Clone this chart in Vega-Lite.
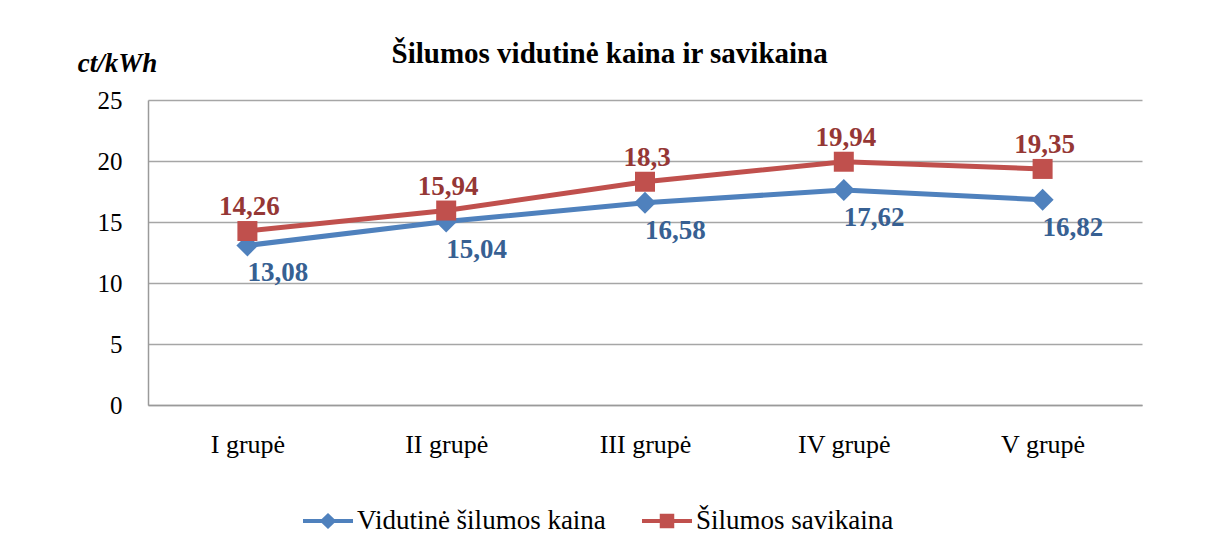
{
  "$schema": "https://vega.github.io/schema/vega-lite/v6.json",
  "width": 994,
  "height": 305,
  "autosize": "none",
  "padding": {"left": 148, "top": 100, "right": 68, "bottom": 132},
  "background": "white",
  "title": {
    "text": "Šilumos vidutinė kaina ir savikaina",
    "font": "Liberation Serif",
    "fontSize": 29,
    "fontWeight": "bold",
    "color": "#000000",
    "anchor": "middle",
    "frame": "bounds",
    "offset": -20
  },
  "config": {
    "view": {"stroke": null},
    "locale": {"number": {"decimal": ",", "thousands": " ", "grouping": [3], "currency": ["", " €"]}},
    "font": "Liberation Serif"
  },
  "data": {
    "values": [
      {"grupe": "I grupė", "series": "Vidutinė šilumos kaina", "value": 13.08},
      {"grupe": "II grupė", "series": "Vidutinė šilumos kaina", "value": 15.04},
      {"grupe": "III grupė", "series": "Vidutinė šilumos kaina", "value": 16.58},
      {"grupe": "IV grupė", "series": "Vidutinė šilumos kaina", "value": 17.62},
      {"grupe": "V grupė", "series": "Vidutinė šilumos kaina", "value": 16.82},
      {"grupe": "I grupė", "series": "Šilumos savikaina", "value": 14.26},
      {"grupe": "II grupė", "series": "Šilumos savikaina", "value": 15.94},
      {"grupe": "III grupė", "series": "Šilumos savikaina", "value": 18.3},
      {"grupe": "IV grupė", "series": "Šilumos savikaina", "value": 19.94},
      {"grupe": "V grupė", "series": "Šilumos savikaina", "value": 19.35}
    ]
  },
  "encoding": {
    "x": {
      "field": "grupe",
      "type": "ordinal",
      "sort": ["I grupė", "II grupė", "III grupė", "IV grupė", "V grupė"],
      "scale": {"type": "point", "padding": 0.5},
      "axis": {
        "title": null,
        "labelAngle": 0,
        "labelFont": "Liberation Serif",
        "labelFontSize": 26,
        "labelColor": "#000000",
        "labelPadding": 26,
        "ticks": false,
        "grid": false,
        "domainColor": "#9a9a9a",
        "domainWidth": 1.5
      }
    },
    "y": {
      "field": "value",
      "type": "quantitative",
      "scale": {"domain": [0, 25], "nice": false},
      "axis": {
        "values": [0, 5, 10, 15, 20, 25],
        "title": "ct/kWh",
        "titleFont": "Liberation Serif",
        "titleFontSize": 27,
        "titleFontStyle": "italic",
        "titleFontWeight": "bold",
        "titleColor": "#000000",
        "titleAngle": 0,
        "titleAlign": "center",
        "titleBaseline": "middle",
        "titleX": -31,
        "titleY": -37,
        "labelFont": "Liberation Serif",
        "labelFontSize": 25,
        "labelColor": "#000000",
        "labelPadding": 26,
        "ticks": false,
        "grid": true,
        "gridColor": "#a6a6a6",
        "gridWidth": 1.5,
        "domainColor": "#9a9a9a",
        "domainWidth": 1.5
      }
    }
  },
  "layer": [
    {
      "mark": {"type": "line", "strokeWidth": 5},
      "encoding": {
        "color": {
          "field": "series",
          "type": "nominal",
          "scale": {"domain": ["Vidutinė šilumos kaina", "Šilumos savikaina"], "range": ["#4f81bd", "#c0504d"]},
          "legend": {
            "title": null,
            "orient": "none",
            "direction": "horizontal",
            "legendX": 155,
            "legendY": 396,
            "labelFont": "Liberation Serif",
            "labelFontSize": 27,
            "labelColor": "#000000",
            "labelLimit": 500,
            "symbolSize": 2500,
            "symbolStrokeWidth": 0,
            "columnPadding": 36,
            "labelOffset": 4,
            "encode": {
              "symbols": {
                "update": {
                  "shape": {"signal": "datum.value === 'Vidutinė šilumos kaina' ? 'M-1,-0.08H-0.25L0,-0.32L0.25,-0.08H1V0.08H0.25L0,0.32L-0.25,0.08H-1Z' : 'M-1,-0.08H-0.29V-0.29H0.29V-0.08H1V0.08H0.29V0.29H-0.29V0.08H-1Z'"},
                  "fill": {"signal": "datum.value === 'Vidutinė šilumos kaina' ? '#4f81bd' : '#c0504d'"},
                  "strokeWidth": {"value": 0},
                  "fillOpacity": {"value": 1},
                  "opacity": {"value": 1}
                }
              }
            }
          }
        }
      }
    },
    {
      "transform": [{"filter": "datum.series === 'Vidutinė šilumos kaina'"}],
      "mark": {"type": "point", "filled": true, "opacity": 1, "size": 484, "shape": "diamond", "color": "#4f81bd"}
    },
    {
      "transform": [{"filter": "datum.series === 'Šilumos savikaina'"}],
      "mark": {"type": "point", "filled": true, "opacity": 1, "size": 400, "shape": "square", "color": "#c0504d"}
    },
    {
      "transform": [{"filter": "datum.series === 'Vidutinė šilumos kaina'"}],
      "mark": {"type": "text", "align": "left", "baseline": "middle", "dx": 0, "dy": 28, "font": "Liberation Serif", "fontSize": 27, "fontWeight": "bold", "color": "#376092"},
      "encoding": {"text": {"field": "value", "type": "quantitative", "format": "~g"}}
    },
    {
      "transform": [{"filter": "datum.series === 'Šilumos savikaina'"}],
      "mark": {"type": "text", "align": "center", "baseline": "middle", "dx": 2, "dy": -24, "font": "Liberation Serif", "fontSize": 27, "fontWeight": "bold", "color": "#953735"},
      "encoding": {"text": {"field": "value", "type": "quantitative", "format": "~g"}}
    }
  ]
}
